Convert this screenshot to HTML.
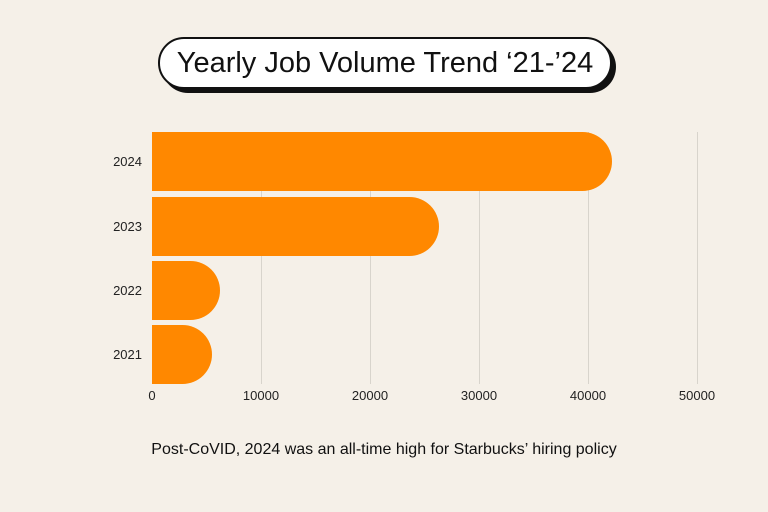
<!DOCTYPE html>
<html><head><style>
body{margin:0;width:768px;height:512px;background:#f5f0e8;font-family:"Liberation Sans",sans-serif;position:relative;overflow:hidden}
.pill{position:absolute;left:158px;top:37px;width:450px;height:48px;border:2px solid #111;border-radius:26px;background:#fff;box-shadow:4px 4px 0 #111;text-align:center;line-height:48px;font-size:29px;color:#111}
.g{position:absolute;top:132px;height:252px;width:1px;background:#d8d4cc}
.bar{position:absolute;left:152px;height:59px;background:#ff8800;border-radius:0 30px 30px 0}
.yl{position:absolute;left:100px;width:42px;text-align:right;font-size:13px;color:#222}
.xl{position:absolute;top:388px;font-size:13px;color:#222;width:60px;margin-left:-30px;text-align:center}
.cap{position:absolute;top:441px;left:0;width:768px;text-align:center;font-size:16px;color:#111}
</style></head><body>
<div class="pill">Yearly Job Volume Trend ‘21-’24</div>
<div class="g" style="left:261px"></div><div class="g" style="left:370px"></div><div class="g" style="left:479px"></div><div class="g" style="left:588px"></div><div class="g" style="left:697px"></div>
<div class="bar" style="top:132px;width:460px"></div>
<div class="bar" style="top:197px;width:287px"></div>
<div class="bar" style="top:261px;width:68px"></div>
<div class="bar" style="top:325px;width:60px"></div>
<div class="yl" style="top:154px">2024</div>
<div class="yl" style="top:219px">2023</div>
<div class="yl" style="top:283px">2022</div>
<div class="yl" style="top:347px">2021</div>
<div class="xl" style="left:152px">0</div>
<div class="xl" style="left:261px">10000</div>
<div class="xl" style="left:370px">20000</div>
<div class="xl" style="left:479px">30000</div>
<div class="xl" style="left:588px">40000</div>
<div class="xl" style="left:697px">50000</div>
<div class="cap">Post-CoVID, 2024 was an all-time high for Starbucks’ hiring policy</div>
</body></html>
